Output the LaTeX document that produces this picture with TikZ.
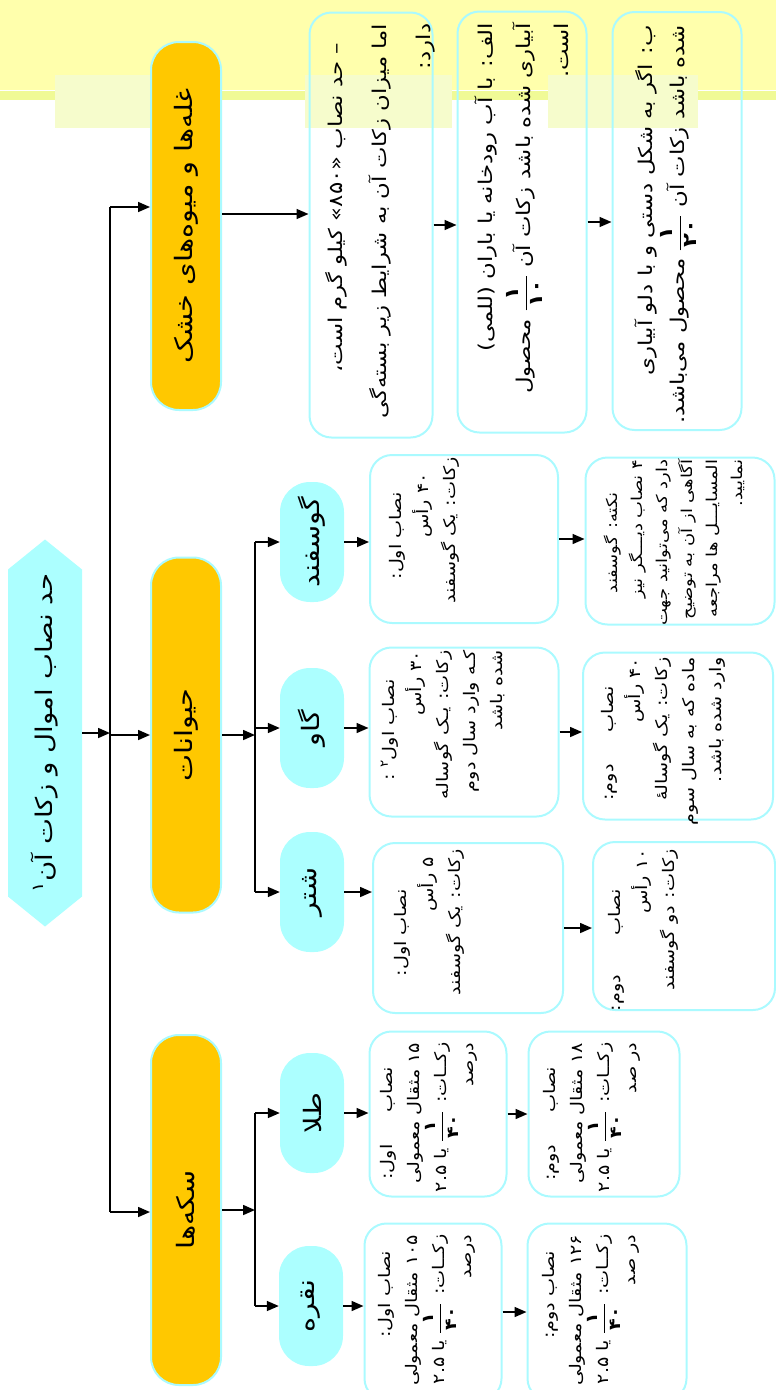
\documentclass[tikz,border=0pt]{standalone}
\usepackage{amsmath}
\usepackage{fontspec}
\usepackage{tikz}
\usetikzlibrary{shapes.symbols, arrows.meta, positioning}
\newfontfamily\arabicfont[Script=Arabic, FakeStretch=1.2]{DejaVu Sans}
\TeXXeTstate=1
\newcommand{\rl}[1]{\beginR #1\endR}
\newcommand{\kasr}[2]{$\dfrac{\text{\bfseries\,#1\,}}{\text{\bfseries\,#2\,}}$}
\definecolor{abi}{RGB}{172,255,255}
\definecolor{labe}{RGB}{170,250,255}
\definecolor{tala}{RGB}{255,200,0}
\definecolor{zard}{RGB}{255,255,172}
\definecolor{zardsabz}{RGB}{240,250,150}
\definecolor{kamrang}{RGB}{246,252,204}
\tikzstyle{titr}     = [signal, signal to=east and west, signal pointer angle=102,
                        fill=abi, rotate=90, minimum width=387pt, minimum height=74pt,
                        font=\arabicfont\fontsize{23}{26}\selectfont]
\tikzstyle{group}    = [rectangle, rounded corners=28pt, fill=tala, draw=labe,
                        line width=2pt, rotate=90, minimum height=70pt,
                        font=\arabicfont\fontsize{24}{28}\selectfont]
\tikzstyle{kind}     = [rectangle, rounded corners=30pt, fill=abi, rotate=90,
                        minimum width=120pt, minimum height=64pt,
                        font=\arabicfont\fontsize{24}{26}\selectfont]
\tikzstyle{info}     = [rectangle, rounded corners=22pt, draw=labe, line width=2pt,
                        rotate=90]
\tikzstyle{infotext} = [rotate=90, anchor=north east, align=right, inner xsep=6pt,
                        inner ysep=16pt, font=\arabicfont\fontsize{16}{27}\selectfont]
\tikzstyle{arrow}    = [line width=1.6pt, ->, >={Triangle[length=12pt,width=10pt]}]

\begin{document}
\begin{tikzpicture}[x=1pt, y=-1pt]
  \useasboundingbox (0,0) rectangle (776,1390);
  % background band at the top
  \fill[zard] (0,0) rectangle (776,90);
  \fill[zardsabz] (0,91) rectangle (776,100);
  \fill[kamrang] (55,75) rectangle (150,128);
  \fill[kamrang] (305,75) rectangle (452,128);
  \fill[kamrang] (548,75) rectangle (698,128);

  \node[titr] (title) at (45,733) {\rl{حد نصاب اموال و زکات آن\textsuperscript{۱}}};

  \node[group, minimum width=368pt] (grain)   at (186,226)  {\rl{غله‌ها و میوه‌های خشک}};
  \node[group, minimum width=355pt] (animals) at (186,735)  {\rl{حیوانات}};
  \node[group, minimum width=350pt] (coins)   at (186,1210) {\rl{سکه‌ها}};

  \node[kind] (sheep)  at (312,542)  {\rl{گوسفند}};
  \node[kind] (cow)    at (312,728)  {\rl{گاو}};
  \node[kind] (camel)  at (312,892)  {\rl{شتر}};
  \node[kind] (gold)   at (312,1113) {\rl{طلا}};
  \node[kind] (silver) at (311,1306) {\rl{نقره}};

  % grain boxes
  \node[info, minimum width=425pt, minimum height=123pt] (grain1) at (371,225) {};
  \node[infotext, inner xsep=12pt, inner ysep=17pt,
        font=\arabicfont\fontsize{19}{44}\selectfont] (grain1t) at (grain1.north east) {%
    \rl{\hspace*{1em}– حد نصاب «۸۵۰» کیلو گرم است،}\\
    \rl{اما میزان زکات آن به شرایط زیر بسته‌گی}\\
    \rl{دارد:}};
  \node[info, minimum width=421pt, minimum height=129pt] (grain2) at (522,222) {};
  \node[infotext, inner xsep=12pt, inner ysep=18pt,
        font=\arabicfont\fontsize{19}{38}\selectfont] (grain2t) at (grain2.north east) {%
    \rl{الف: با آب رودخانه یا باران (للمی)}\\
    \rl{آبیاری شده باشد زکات آن \kasr{۱}{۱۰} محصول}\\
    \rl{است.}};
  \node[info, minimum width=418pt, minimum height=129pt] (grain3) at (677,221) {};
  \node[infotext, inner xsep=14pt, inner ysep=23pt,
        font=\arabicfont\fontsize{19}{32}\selectfont] (grain3t) at (grain3.north east) {%
    \rl{ب: اگر به شکل دستی و با دلو آبیاری}\\
    \rl{شده باشد زکات آن \kasr{۱}{۲۰} محصول می‌باشد.}};

  % animal boxes
  \node[info, minimum width=168pt, minimum height=188pt] (sheep1) at (464,539) {};
  \node[infotext, inner xsep=3pt, inner ysep=20pt] (sheep1t) at (sheep1.north east) {%
    \rl{\hspace*{2.2em}نصاب اول:}\\
    \rl{\hspace*{1em}۴۰ رأس}\\
    \rl{زکات: یک گوسفند}};
  \node[info, minimum width=167pt, minimum height=189pt] (sheep2) at (680,541) {};
  \node[infotext, inner xsep=3pt, inner ysep=19pt,
        font=\arabicfont\fontsize{15}{25}\selectfont] (sheep2t) at (sheep2.north east) {%
    \rl{\hspace*{2.2em}نکته: گوسفند}\\
    \rl{۴ نصاب دیـــگر نیز}\\
    \rl{دارد که می‌توانید جهت}\\
    \rl{آگاهی از آن به توضیح}\\
    \rl{المسایـــل ها مراجعه}\\
    \rl{نمایید.}};
  \node[info, minimum width=169pt, minimum height=189pt] (cow1) at (464,732) {};
  \node[infotext, inner xsep=4pt, inner ysep=12pt] (cow1t) at (cow1.north east) {%
    \rl{\hspace*{1.8em}نصاب اول\textsuperscript{۲} :}\\
    \rl{۳۰ رأس}\\
    \rl{زکات: یـک گوساله}\\
    \rl{کـه وارد سال دوم}\\
    \rl{شده باشد}};
  \node[info, minimum width=167pt, minimum height=190pt] (cow2) at (678,736) {};
  \node[infotext, inner xsep=6pt, inner ysep=19pt] (cow2t) at (cow2.north east) {%
    \rl{\hspace*{1.8em}نصاب\hspace{2em}دوم:}\\
    \rl{۴۰ رأس}\\
    \rl{زکات: یک گوسالهٔ}\\
    \rl{ماده که به سال سوم}\\
    \rl{وارد شده باشد.}};
  \node[info, minimum width=170pt, minimum height=190pt] (camel1) at (468,928) {};
  \node[infotext, inner xsep=7pt, inner ysep=22pt] (camel1t) at (camel1.north east) {%
    \rl{\hspace*{2.5em}نصاب اول:}\\
    \rl{\hspace*{0.5em}۵ رأس}\\
    \rl{زکات: یک گوسفند}};
  \node[info, minimum width=168pt, minimum height=182pt] (camel2) at (684,926) {};
  \node[infotext, inner xsep=8pt, inner ysep=16pt] (camel2t) at (camel2.north east) {%
    \rl{\hspace*{2.5em}نصاب\hspace{2.5em}دوم:}\\
    \rl{۱۰ رأس}\\
    \rl{زکات: دو گوسفند}};

  % coin boxes
  \node[info, minimum width=165pt, minimum height=137pt] (gold1) at (438,1114) {};
  \node[infotext, inner xsep=12pt, inner ysep=12pt] (gold1t) at (gold1.north east) {%
    \rl{\hspace*{1.5em}نصاب\hspace{2em}اول:}\\
    \rl{۱۵ مثقال معمولی}\\
    \rl{زکــات: \kasr{۱}{۴۰} یا ۲.۵}\\
    \rl{درصد}};
  \node[info, minimum width=165pt, minimum height=151pt] (gold2) at (604,1114) {};
  \node[infotext, inner xsep=12pt, inner ysep=16pt] (gold2t) at (gold2.north east) {%
    \rl{\hspace*{1.5em}نصاب\hspace{2em}دوم:}\\
    \rl{۱۸ مثقال معمولی}\\
    \rl{زکــات: \kasr{۱}{۴۰} یا ۲.۵}\\
    \rl{در صد}};
  \node[info, minimum width=177pt, minimum height=137pt] (silver1) at (433,1312) {};
  \node[infotext, inner xsep=12pt, inner ysep=15pt] (silver1t) at (silver1.north east) {%
    \rl{\hspace*{1em}نصاب اول:}\\
    \rl{۱۰۵ مثقال معمولی}\\
    \rl{زکــات: \kasr{۱}{۴۰} یا ۲.۵}\\
    \rl{درصد}};
  \node[info, minimum width=177pt, minimum height=159pt] (silver2) at (607,1312) {};
  \node[infotext, inner xsep=12pt, inner ysep=16pt] (silver2t) at (silver2.north east) {%
    \rl{\hspace*{1em}نصاب دوم:}\\
    \rl{۱۲۶ مثقال معمولی}\\
    \rl{زکــات: \kasr{۱}{۴۰} یا ۲.۵}\\
    \rl{در صد}};

  % trunk and branches
  \coordinate (trunktop) at (110,207);
  \coordinate (trunkbot) at (110,1212);
  \coordinate (animtop)  at (255,542);
  \coordinate (animbot)  at (255,892);
  \coordinate (cointop)  at (255,1113);
  \coordinate (coinbot)  at (255,1306);

  \draw[line width=1.6pt] (trunktop) -- (trunkbot);
  \draw[arrow] (title.south) -- (title.south -| trunktop);
  \draw[arrow] (trunktop) -- (trunktop -| grain.north);
  \draw[arrow] (animals.north -| trunktop) -- (animals.north);
  \draw[arrow] (trunkbot) -- (trunkbot -| coins.north);

  \draw[arrow] ([yshift=12pt]grain.south) -- ([yshift=12pt]grain.south -| grain1.north);
  \draw[arrow] (grain1.south) -- (grain1.south -| grain2.north);
  \draw[arrow] (grain2.south) -- (grain2.south -| grain3.north);

  \draw[arrow] (animals.south) -- (animals.south -| animtop);
  \draw[line width=1.6pt] (animtop) -- (animbot);
  \draw[arrow] (animtop) -- (sheep.north);
  \draw[arrow] (cow.north -| animtop) -- (cow.north);
  \draw[arrow] (animbot) -- (camel.north);

  \draw[arrow] (coins.south) -- (coins.south -| cointop);
  \draw[line width=1.6pt] (cointop) -- (coinbot);
  \draw[arrow] (cointop) -- (gold.north);
  \draw[arrow] (coinbot) -- (silver.north);

  \draw[arrow] (sheep.south) -- (sheep.south -| sheep1.north);
  \draw[arrow] (sheep1.south) -- (sheep1.south -| sheep2.north);
  \draw[arrow] (cow.south) -- (cow.south -| cow1.north);
  \draw[arrow] (cow1.south) -- (cow1.south -| cow2.north);
  \draw[arrow] (camel.south) -- (camel.south -| camel1.north);
  \draw[arrow] (camel1.south) -- (camel1.south -| camel2.north);
  \draw[arrow] (gold.south) -- (gold.south -| gold1.north);
  \draw[arrow] (gold1.south) -- (gold1.south -| gold2.north);
  \draw[arrow] (silver.south) -- (silver.south -| silver1.north);
  \draw[arrow] (silver1.south) -- (silver1.south -| silver2.north);
\end{tikzpicture}
\end{document}
